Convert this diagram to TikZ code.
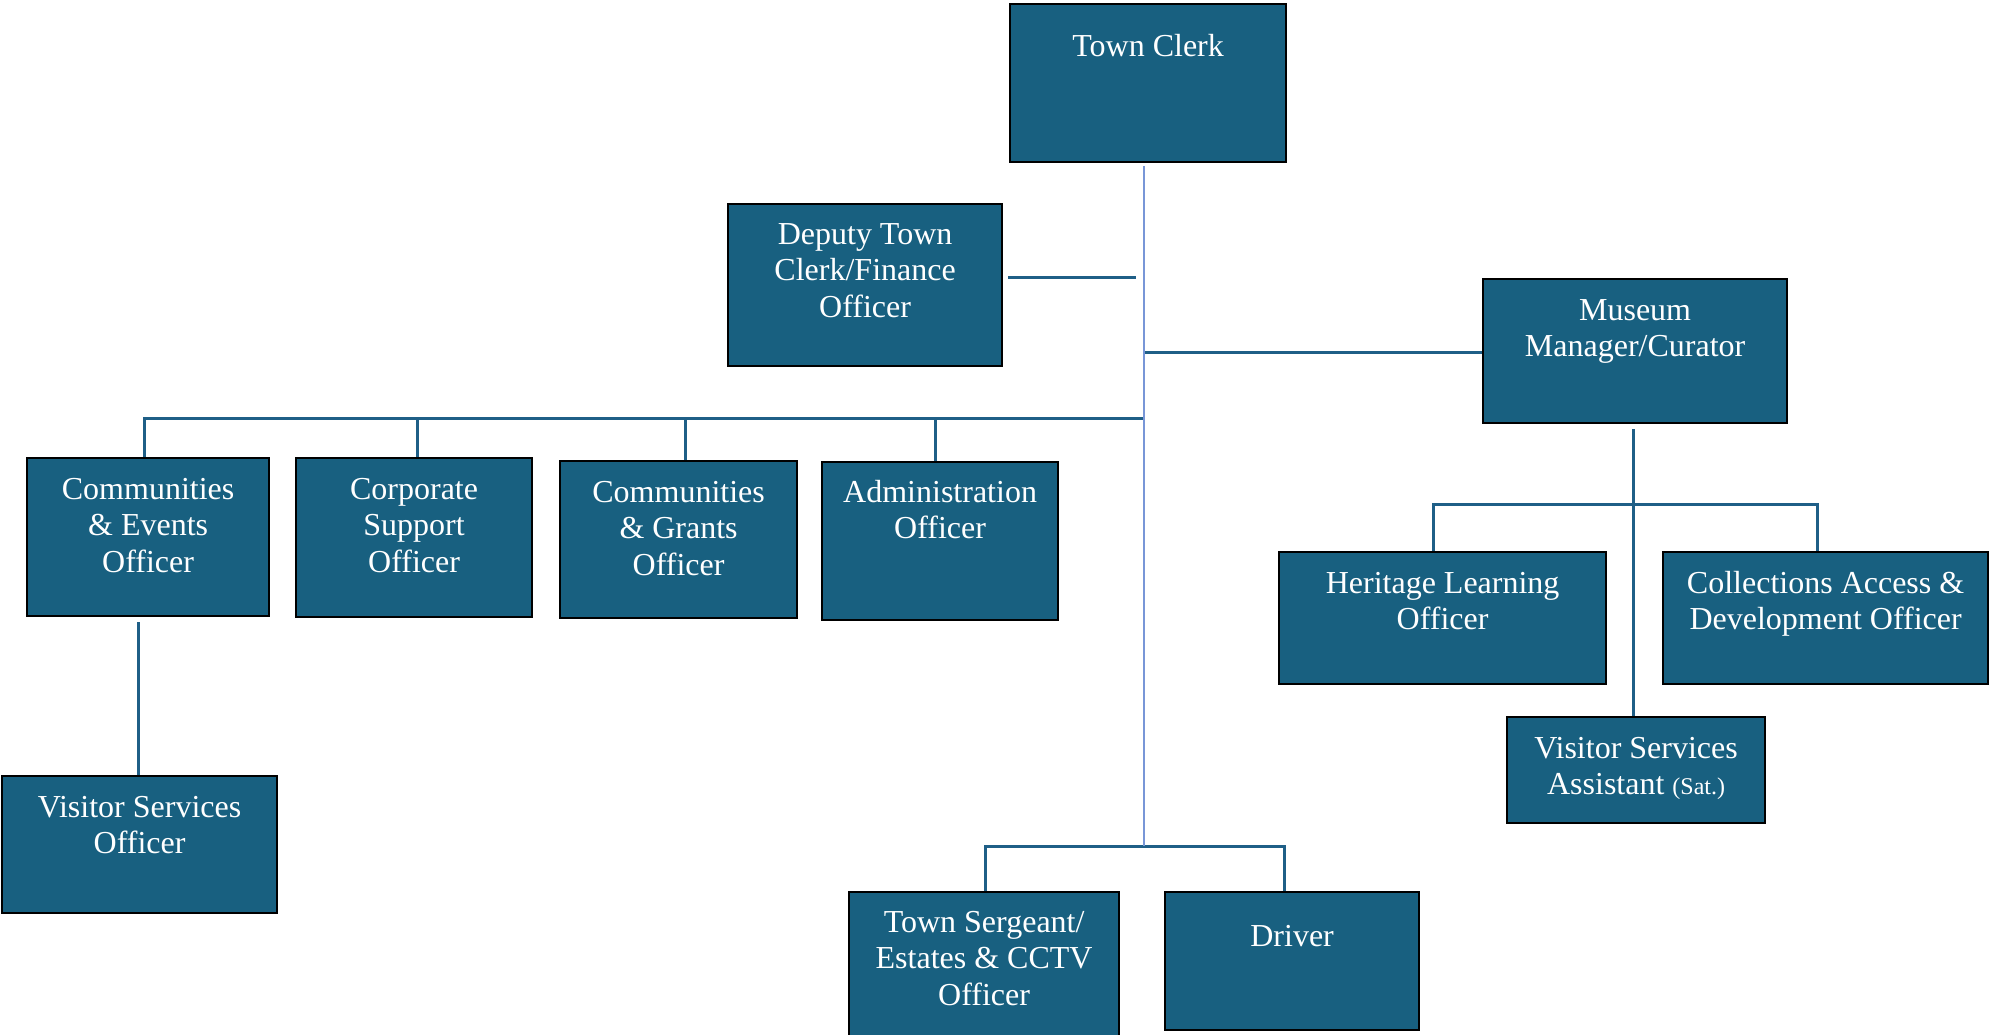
\documentclass[tikz,border=0pt]{standalone}
\usepackage{fontspec}
\setmainfont{Liberation Serif}
\definecolor{boxfill}{RGB}{24,96,128}
\definecolor{linec}{RGB}{31,95,135}
\definecolor{trunk}{RGB}{120,150,215}
\begin{document}
\begin{tikzpicture}[x=1pt,y=-1pt,
  box/.style={draw=black, line width=2.2pt, fill=boxfill, inner sep=0pt, anchor=north west},
  lbl/.style={text=white, font=\fontsize{32}{36.7}\selectfont, align=center, anchor=base, inner sep=0pt},
  conn/.style={draw=linec, line width=3pt},
  trunkline/.style={draw=trunk, line width=1.8pt}]
\useasboundingbox (0,0) rectangle (1992,1034);
\clip (0,0) rectangle (1992,1034);
\fill[white] (0,0) rectangle (1992,1034);

% boxes
\node[box, minimum width=276pt, minimum height=158pt] (tc)  at (1009,3)   {};
\node[box, minimum width=274pt, minimum height=162pt] (dep) at (727,203)  {};
\node[box, minimum width=304pt, minimum height=144pt] (mus) at (1482,278) {};
\node[box, minimum width=242pt, minimum height=158pt] (ce)  at (26,457)   {};
\node[box, minimum width=236pt, minimum height=159pt] (cs)  at (295,457)  {};
\node[box, minimum width=237pt, minimum height=157pt] (cg)  at (559,460)  {};
\node[box, minimum width=236pt, minimum height=158pt] (ad)  at (821,461)  {};
\node[box, minimum width=275pt, minimum height=137pt] (vso) at (1,775)    {};
\node[box, minimum width=327pt, minimum height=132pt] (her) at (1278,551) {};
\node[box, minimum width=325pt, minimum height=132pt] (col) at (1662,551) {};
\node[box, minimum width=258pt, minimum height=106pt] (vsa) at (1506,716) {};
\node[box, minimum width=270pt, minimum height=170pt] (ts)  at (848,891)  {};
\node[box, minimum width=254pt, minimum height=138pt] (dr)  at (1164,891) {};

% labels (anchor=base is the last line's baseline)
\node[lbl] (tc-t)  at ([yshift=-53pt]tc.north)  {Town Clerk};
\node[lbl] (dep-t) at ([yshift=-114.4pt]dep.north) {Deputy Town\\Clerk/Finance\\Officer};
\node[lbl] (mus-t) at ([yshift=-78.7pt]mus.north) {Museum\\Manager/Curator};
\node[lbl] (ce-t)  at ([yshift=-115.4pt]ce.north)  {Communities\\\&~Events\\Officer};
\node[lbl] (cs-t)  at ([yshift=-115.4pt]cs.north)  {Corporate\\Support\\Officer};
\node[lbl] (cg-t)  at ([yshift=-115.4pt]cg.north)  {Communities\\\&~Grants\\Officer};
\node[lbl] (ad-t)  at ([yshift=-77.7pt]ad.north)  {Administration\\Officer};
\node[lbl] (vso-t) at ([yshift=-78.7pt]vso.north) {Visitor Services\\Officer};
\node[lbl] (her-t) at ([yshift=-78.7pt]her.north) {Heritage Learning\\Officer};
\node[lbl] (col-t) at ([yshift=-78.7pt]col.north) {Collections Access \&\\Development Officer};
\node[lbl] (vsa-t) at ([yshift=-78.7pt]vsa.north) {Visitor Services\\Assistant {\fontsize{24}{28}\selectfont (Sat.)}};
\node[lbl] (ts-t)  at ([yshift=-114.4pt]ts.north)  {Town Sergeant/\\Estates \& CCTV\\Officer};
\node[lbl] (dr-t)  at ([yshift=-55pt]dr.north)  {Driver};

% junction coordinates
\coordinate (t0) at (1144,166);
\coordinate (t1) at (1144,846);
\coordinate (dj) at (1136,277);
\coordinate (mj) at (1144,352);
\coordinate (h1) at (1144,418);
\coordinate (hd) at (1433,504);
\coordinate (cd) at (1817,504);
\coordinate (bl) at (985,846);
\coordinate (br) at (1284,846);
\coordinate (cej) at (144,457);
\coordinate (csj) at (417,457);
\coordinate (cgj) at (685,460);
\coordinate (adj) at (935,461);
\coordinate (cebot) at ([yshift=-5pt]ce.south);
\coordinate (musbot) at ([yshift=-5pt]mus.south);
\coordinate (mv) at (1633,716);
\coordinate (vv) at (138,775);
\coordinate (depr) at ([xshift=5pt]dep.east);

% connectors
\draw[conn] (depr |- dj) -- (dj);
\draw[conn] (mj) -- (mus.west |- mj);
\draw[conn] (h1) -| (cej);
\draw[conn] (h1 -| csj) -- (csj);
\draw[conn] (h1 -| cgj) -- (cgj);
\draw[conn] (h1 -| adj) -- (adj);
\draw[conn] (cebot -| vv) -- (vv);
\draw[conn] (musbot -| mv) -- (mv);
\draw[conn] (her.north -| hd) |- (cd) -- (col.north -| cd);
\draw[conn] (ts.north -| bl) -- (bl) -- (br) -- (dr.north -| br);
\draw[trunkline] (t0) -- (t1);
\end{tikzpicture}
\end{document}
